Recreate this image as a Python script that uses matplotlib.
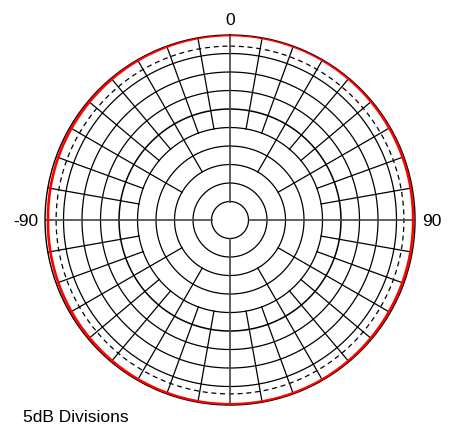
import numpy as np
import matplotlib.pyplot as plt

plt.rcParams['font.family'] = ['Liberation Sans', 'DejaVu Sans']

# pattern (dB relative to max) read every 30 degrees
angles_deg = [0, 30, 60, 90, 120, 150, 180, 210, 240, 270, 300, 330, 360]
gain_db = [0.0, -0.1, -0.3, -0.5, -0.4, -0.2, -0.2, -0.3, -0.5, -0.8, -0.5, -0.2, 0.0]

ring_db = [-45, -40, -35, -30, -25, -20, -15, -10, -5]
ring_3db = -3
axis_spokes = [0, 90, 180, 270]
spokes_30 = [30, 60, 120, 150, 210, 240, 300, 330]
spokes_10 = [a for a in range(0, 360, 10) if a % 30 != 0]
r_min, r_max = -50, 0

fig = plt.figure(figsize=(4.51, 4.25), dpi=100)
ax = fig.add_axes([0.0998, 0.047, 0.8204, 0.8706], projection='polar')
ax.set_theta_zero_location('N')
ax.set_theta_direction(-1)
ax.set_ylim(r_min, r_max)
ax.grid(False)
ax.set_xticks([])
ax.set_yticks([])
ax.spines['polar'].set_color('black')
ax.spines['polar'].set_linewidth(1.0)

th = np.linspace(0, 2 * np.pi, 721)
for r in ring_db:
    lw = 1.1 if r == -20 else 0.9
    ax.plot(th, np.full_like(th, r), color='black', lw=lw)
ax.plot(th, np.full_like(th, ring_3db), color='black', lw=0.9, dashes=(4, 3))

# spokes start further out where they would crowd the centre
for a in axis_spokes:
    ax.plot([np.radians(a)] * 2, [-45, r_max], color='#444444', lw=1.2)
for a in spokes_30:
    ax.plot([np.radians(a)] * 2, [-35, r_max], color='black', lw=0.9)
for a in spokes_10:
    ax.plot([np.radians(a)] * 2, [-25, r_max], color='black', lw=0.9)

# smooth the read points for the trace
th_pat = np.radians(np.arange(0, 361, 2))
g_pat = np.interp(np.degrees(th_pat), angles_deg, gain_db)
ax.plot(th_pat, g_pat, color='red', lw=1.9, zorder=5)

ax.text(0.5, 1.027, '0', transform=ax.transAxes, ha='center', va='baseline', fontsize=12.5)
ax.text(-0.019, 0.5, '-90', transform=ax.transAxes, ha='right', va='center_baseline', fontsize=12.5)
ax.text(1.018, 0.5, '90', transform=ax.transAxes, ha='left', va='center_baseline', fontsize=12.5)
fig.text(0.051, 0.008, '5dB Divisions', ha='left', va='baseline', fontsize=12.5)

plt.savefig('out.png', dpi=100)
